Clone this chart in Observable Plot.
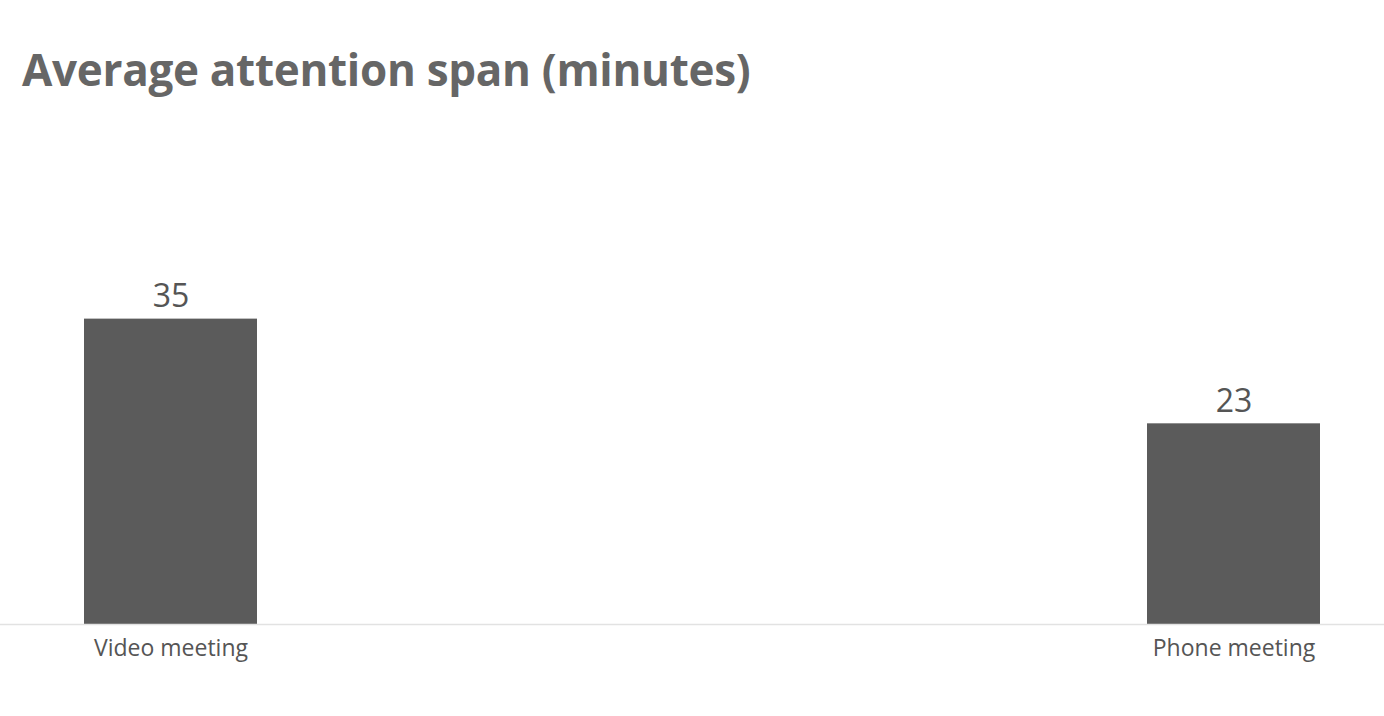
<!DOCTYPE html>
<html>
<head>
<meta charset="utf-8">
<script src="https://cdn.jsdelivr.net/npm/d3@7"></script>
<script src="https://cdn.jsdelivr.net/npm/@observablehq/plot@0.6"></script>
<style>
  html, body { margin: 0; padding: 0; background: #ffffff; }
  body { width: 1384px; height: 716px; overflow: hidden; font-family: "Open Sans", sans-serif; }
  #title { height: 130px; box-sizing: border-box; padding: 45px 0 0 22px; font-size: 44px; font-weight: 700; color: #666666; letter-spacing: -0.3px; line-height: 1.1; }
  #chart svg { display: block; }
</style>
</head>
<body>
<div id="title">Average attention span (minutes)</div>
<div id="chart"></div>
<script>
const categories = ["Video meeting", "Phone meeting"];
const values = [35, 23];
const valueLabels = ["35", "23"];

const data = categories.map((c, i) => ({category: c, value: values[i], label: valueLabels[i]}));

const chart = Plot.plot({
  width: 1384,
  height: 586,
  marginTop: 145,
  marginBottom: 92,
  marginLeft: 0,
  marginRight: 0,
  style: {fontFamily: "Open Sans, sans-serif", background: "#ffffff"},
  x: {domain: categories, paddingInner: 0.837, paddingOuter: 0.069, align: 0.57, label: null},
  y: {domain: [0, 40], axis: null},
  marks: [
    Plot.barY(data, {x: "category", y: "value", fill: "#5b5b5b"}),
    Plot.ruleY([0], {stroke: "#e2e2e2", strokeWidth: 1.5}),
    Plot.text(data, {x: "category", y: "value", text: "label", dy: -22, fontSize: 32, fill: "#555555", textAnchor: "middle"}),
    Plot.axisX({tickSize: 0, tickPadding: 15, fontSize: 23, color: "#555555", label: null})
  ]
});
document.getElementById("chart").appendChild(chart);
</script>
</body>
</html>
